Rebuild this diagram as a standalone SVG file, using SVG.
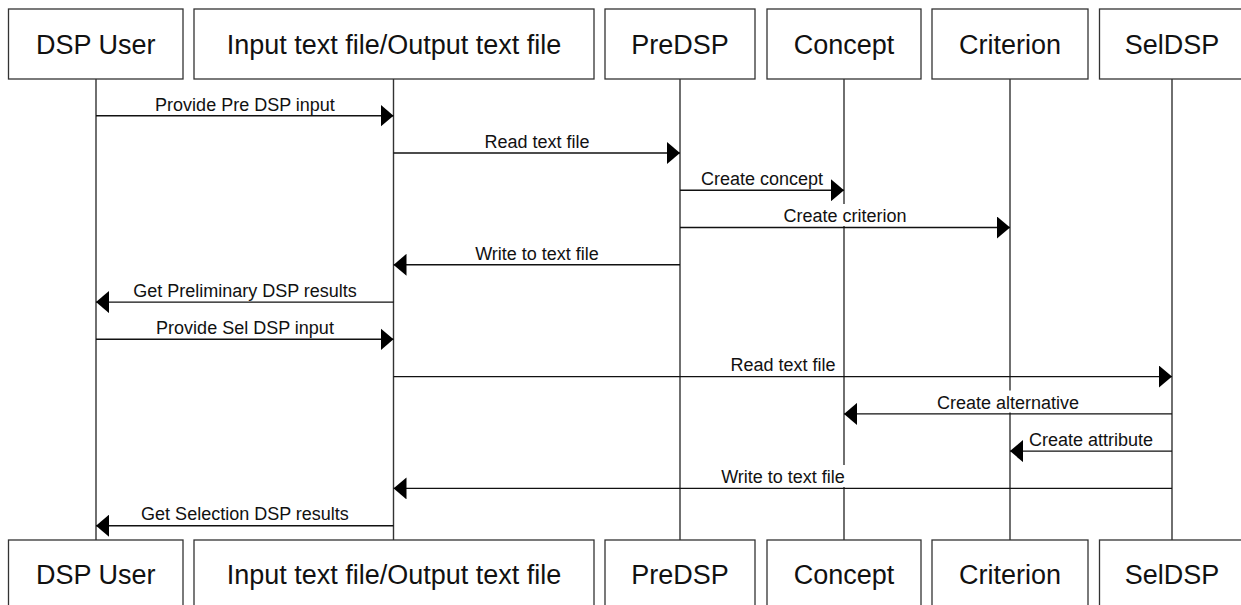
<svg xmlns="http://www.w3.org/2000/svg" width="1241" height="605" viewBox="0 0 1241 605">
  <style>
    .box { fill: #ffffff; stroke: #333333; stroke-width: 1.3; }
    .name { font-family: "Liberation Sans", Arial, sans-serif; font-size: 27px; fill: #111111; text-anchor: middle; }
    .life { stroke: #333333; stroke-width: 1.4; fill: none; }
    .msg { stroke: #111111; stroke-width: 1.4; fill: none; marker-end: url(#head); }
    .lbl { font-family: "Liberation Sans", Arial, sans-serif; font-size: 18px; fill: #111111; text-anchor: middle; }
    .bg { fill: #ffffff; stroke: none; }
  </style>
  <defs>
    <marker id="head" viewBox="0 0 13 22" refX="13" refY="11" markerWidth="13" markerHeight="22" markerUnits="userSpaceOnUse" orient="auto">
      <path d="M0,0 L13,11 L0,22 Z" fill="#000000"/>
    </marker>
  </defs>

  <!-- lifelines -->
  <g id="lifelines">
    <line class="life" x1="96" y1="79" x2="96" y2="540"/>
    <line class="life" x1="393.5" y1="79" x2="393.5" y2="540"/>
    <line class="life" x1="680" y1="79" x2="680" y2="540"/>
    <line class="life" x1="844" y1="79" x2="844" y2="540"/>
    <line class="life" x1="1010" y1="79" x2="1010" y2="540"/>
    <line class="life" x1="1172" y1="79" x2="1172" y2="540"/>
  </g>

  <!-- participants, top row -->
  <g id="dsp-user-top"><rect class="box" x="8.5" y="9" width="174.5" height="70"/><text class="name" x="95.7" y="53.5">DSP User</text></g>
  <g id="io-file-top"><rect class="box" x="194" y="9" width="400" height="70"/><text class="name" x="394" y="53.5">Input text file/Output text file</text></g>
  <g id="predsp-top"><rect class="box" x="605" y="9" width="150" height="70"/><text class="name" x="680" y="53.5">PreDSP</text></g>
  <g id="concept-top"><rect class="box" x="767" y="9" width="154" height="70"/><text class="name" x="844" y="53.5">Concept</text></g>
  <g id="criterion-top"><rect class="box" x="932" y="9" width="156" height="70"/><text class="name" x="1010" y="53.5">Criterion</text></g>
  <g id="seldsp-top"><rect class="box" x="1099.5" y="9" width="145" height="70"/><text class="name" x="1172" y="53.5">SelDSP</text></g>

  <!-- participants, bottom row -->
  <g id="dsp-user-bottom"><rect class="box" x="8.5" y="540" width="174.5" height="70"/><text class="name" x="95.7" y="583.5">DSP User</text></g>
  <g id="io-file-bottom"><rect class="box" x="194" y="540" width="400" height="70"/><text class="name" x="394" y="583.5">Input text file/Output text file</text></g>
  <g id="predsp-bottom"><rect class="box" x="605" y="540" width="150" height="70"/><text class="name" x="680" y="583.5">PreDSP</text></g>
  <g id="concept-bottom"><rect class="box" x="767" y="540" width="154" height="70"/><text class="name" x="844" y="583.5">Concept</text></g>
  <g id="criterion-bottom"><rect class="box" x="932" y="540" width="156" height="70"/><text class="name" x="1010" y="583.5">Criterion</text></g>
  <g id="seldsp-bottom"><rect class="box" x="1099.5" y="540" width="145" height="70"/><text class="name" x="1172" y="583.5">SelDSP</text></g>

  <!-- messages -->
  <g id="messages">
    <line class="msg" x1="96" y1="115.7" x2="393.5" y2="115.7"/>
    <text class="lbl" x="245" y="110.5">Provide Pre DSP input</text>

    <line class="msg" x1="393.5" y1="153" x2="680" y2="153"/>
    <text class="lbl" x="537" y="147.5">Read text file</text>

    <line class="msg" x1="680" y1="190.2" x2="844" y2="190.2"/>
    <text class="lbl" x="762" y="185">Create concept</text>

    <line class="msg" x1="680" y1="227.5" x2="1010" y2="227.5"/>
    <rect class="bg" x="781" y="204" width="128" height="22"/>
    <text class="lbl" x="845" y="222">Create criterion</text>

    <line class="msg" x1="680" y1="264.8" x2="393.5" y2="264.8"/>
    <text class="lbl" x="537" y="259.5">Write to text file</text>

    <line class="msg" x1="393.5" y1="302.1" x2="96" y2="302.1"/>
    <text class="lbl" x="245" y="296.5">Get Preliminary DSP results</text>

    <line class="msg" x1="96" y1="339.3" x2="393.5" y2="339.3"/>
    <text class="lbl" x="245" y="334">Provide Sel DSP input</text>

    <line class="msg" x1="393.5" y1="376.6" x2="1172" y2="376.6"/>
    <text class="lbl" x="783" y="371">Read text file</text>

    <line class="msg" x1="1172" y1="413.9" x2="844" y2="413.9"/>
    <rect class="bg" x="934" y="390.5" width="148" height="22"/>
    <text class="lbl" x="1008" y="408.5">Create alternative</text>

    <line class="msg" x1="1172" y1="451.1" x2="1010" y2="451.1"/>
    <text class="lbl" x="1091" y="445.5">Create attribute</text>

    <line class="msg" x1="1172" y1="488.4" x2="393.5" y2="488.4"/>
    <rect class="bg" x="717" y="465" width="131" height="22"/>
    <text class="lbl" x="783" y="483">Write to text file</text>

    <line class="msg" x1="393.5" y1="525.7" x2="96" y2="525.7"/>
    <text class="lbl" x="245" y="520">Get Selection DSP results</text>
  </g>
</svg>
